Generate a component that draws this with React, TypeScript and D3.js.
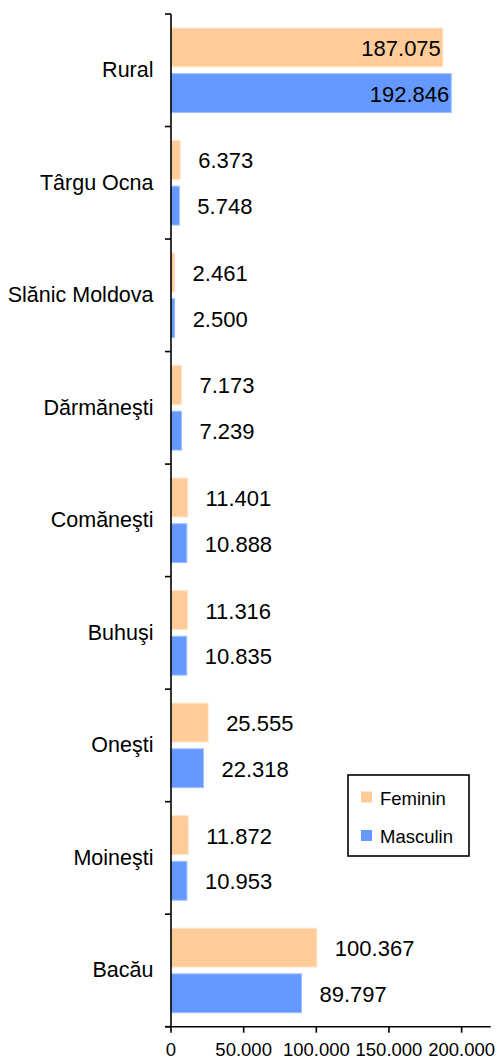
import React from "react";
import * as d3 from "d3";

const categories = ["Rural", "Târgu Ocna", "Slănic Moldova", "Dărmăneşti", "Comăneşti", "Buhuşi", "Oneşti", "Moineşti", "Bacău"];
const seriesNames = ["Feminin", "Masculin"];
const feminin = [187075, 6373, 2461, 7173, 11401, 11316, 25555, 11872, 100367];
const masculin = [192846, 5748, 2500, 7239, 10888, 10835, 22318, 10953, 89797];
const xTicks = [0, 50000, 100000, 150000, 200000];
const colors = ["#FFCC99", "#6699FF"];
const strokes = ["#FFE3C6", "#9DBDFF"];

const W = 501;
const H = 1061;
const FONT = "'Liberation Sans', Arial, sans-serif";

const loc = d3.formatLocale({ decimal: ",", thousands: ".", grouping: [3], currency: ["", ""] });
const fmt = loc.format(",d");

export default function App() {
  const x = d3.scaleLinear().domain([0, 220000]).range([171, 490.7]);
  const y = d3.scaleBand<string>().domain(categories).range([14, 1026.7]).paddingInner(0).paddingOuter(0);
  const bw = y.bandwidth();
  const inner = d3.scaleBand<string>().domain(seriesNames).range([14, bw - 14]).paddingInner(0.15);
  const data = [feminin, masculin];
  const axisY = 1026.7;
  const boundaries = d3.range(categories.length + 1).map((i) => 14 + i * bw);

  return (
    <svg width={W} height={H} style={{ position: "absolute", left: 0, top: 0, fontFamily: FONT }}>
      <rect x={0} y={0} width={W} height={H} fill="#fff" />
      {categories.map((c, ci) => (
        <g key={c}>
          <text x={153.5} y={(y(c) as number) + bw / 2} textAnchor="end" dominantBaseline="central" fontSize={21.5} fill="#000">
            {c}
          </text>
          {seriesNames.map((s, si) => {
            const v = data[si][ci];
            const by = (y(c) as number) + (inner(s) as number);
            const bh = inner.bandwidth();
            const xe = x(v);
            const inside = v > 150000;
            return (
              <g key={s}>
                <rect x={x(0)} y={by} width={xe - x(0)} height={bh} fill={colors[si]} stroke={strokes[si]} strokeWidth={1} />
                <text
                  x={inside ? xe - 2 : xe + 18}
                  y={by + bh / 2 + 1}
                  textAnchor={inside ? "end" : "start"}
                  dominantBaseline="central"
                  fontSize={22}
                  fill="#000"
                >
                  {fmt(v)}
                </text>
              </g>
            );
          })}
        </g>
      ))}
      {/* left axis */}
      <line x1={171} x2={171} y1={14} y2={axisY} stroke="#000" strokeWidth={1.6} />
      {boundaries.map((b, i) => (
        <line key={i} x1={165} x2={171} y1={b} y2={b} stroke="#000" strokeWidth={1.6} />
      ))}
      {/* bottom axis */}
      <line x1={165} x2={490.7} y1={axisY} y2={axisY} stroke="#000" strokeWidth={1.6} />
      {xTicks.map((t) => (
        <g key={t}>
          <line x1={x(t)} x2={x(t)} y1={axisY} y2={axisY + 6} stroke="#000" strokeWidth={1.6} />
          <text x={x(t)} y={1056} textAnchor="middle" fontSize={18.5} fill="#000">
            {fmt(t)}
          </text>
        </g>
      ))}
      {/* legend */}
      <rect x={348} y={775} width={121} height={81} fill="#fff" stroke="#000" strokeWidth={1.6} />
      {seriesNames.map((s, si) => (
        <g key={s}>
          <rect x={361} y={791.5 + si * 38.5} width={11} height={11} fill={colors[si]} />
          <text x={380} y={798 + si * 38.5} dominantBaseline="central" fontSize={18.5} fill="#000">
            {s}
          </text>
        </g>
      ))}
    </svg>
  );
}
